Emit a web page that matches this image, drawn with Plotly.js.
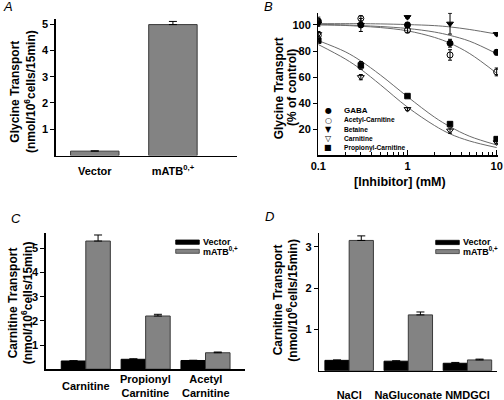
<!DOCTYPE html>
<html>
<head>
<meta charset="utf-8">
<script src="https://cdn.plot.ly/plotly-3.0.1.min.js"></script>
<style>html,body{margin:0;padding:0;background:#fff;}#chart{width:504px;height:400px;}</style>
</head>
<body>
<div id="chart"></div>
<script>
// ---------- Panel A data ----------
const catA = ['Vector', 'mATB<sup>0,+</sup>'];
const valA = [0.17, 4.98];
const errA = [0.01, 0.12];

// ---------- Panel B data ----------
const concB = [0.1, 0.3, 1, 3, 10];
const gabaB = [103, 100, 100, 86, 79];
const gabaErrB = [3, 5, 2, 3, 2];
const acetylB = [92, 105, 96, 77, 64];
const acetylErrB = [3, 2, 2, 4, 3];
const betaineB = [101, 100, 106, 101, 93];
const betaineErrB = [2, 1, 1, 8, 1];
const carnB = [93, 60, 35.5, 19, 10];
const carnErrB = [2, 2, 1, 2, 1];
const propB = [88, 69, 45.5, 24, 12.5];
const propErrB = [1, 3, 1, 1, 1];
// fitted curves
const fitX = [0.1, 0.2, 0.3, 0.5, 1, 2, 3, 5, 10];
const gabaFit = [100.5, 100, 99.5, 98.8, 97.3, 94.6, 92, 87.5, 78];
const acetylFit = [100, 99.6, 99, 98, 95.5, 90.5, 86, 78, 63];
const betaineFit = [101, 101, 101, 100.8, 100.3, 99.5, 98.5, 96.5, 93];
const carnFit = [85, 74, 66, 54, 37, 23, 16.5, 11, 6];
const propFit = [88, 79.5, 72.4, 61.5, 45, 29.4, 22, 14.6, 8];
const legendB = ['GABA', 'Acetyl-Carnitine', 'Betaine', 'Carnitine', 'Propionyl-Carnitine'];
const legendSymB = ['\u25CF', '\u25CB', '\u25BC', '\u25BD', '\u25A0'];
const tickValsB = [0.1, 1, 10];
const tickTextB = ['0.1', '1', '10'];
const minorValsB = [0.2, 0.3, 0.4, 0.5, 0.6, 0.7, 0.8, 0.9, 2, 3, 4, 5, 6, 7, 8, 9];

// ---------- Panel C data ----------
const catC = ['Carnitine', 'Propionyl<br>Carnitine', 'Acetyl<br>Carnitine'];
const vecC = [0.34, 0.41, 0.36];
const vecErrC = [0.01, 0.02, 0.01];
const atbC = [5.3, 2.2, 0.68];
const atbErrC = [0.25, 0.07, 0.03];

// ---------- Panel D data ----------
const catD = ['NaCl', 'NaGluconate', 'NMDGCl'];
const vecD = [0.25, 0.23, 0.18];
const vecErrD = [0.01, 0.01, 0.02];
const atbD = [3.15, 1.35, 0.26];
const atbErrD = [0.11, 0.07, 0.02];

const seriesNames = ['Vector', 'mATB<sup>0,+</sup>'];

// ---------- styles ----------
const FONT = 'Liberation Sans, Arial, Helvetica, sans-serif';
const GRAY = '#838383';
const OUTLINE = '#3a3a3a';
const CURVE = '#6a6a6a';
const tickFont = {family: FONT, size: 11, color: '#000', weight: 'bold'};

function upErr(arr) {
  return {type: 'data', symmetric: false, array: arr, arrayminus: arr.map(() => 0),
          color: '#000', thickness: 1, width: 4};
}
function symErr(arr) {
  return {type: 'data', array: arr, color: '#000', thickness: 1, width: 2};
}
function px(v) { return v / 504; }
function py(v) { return 1 - v / 400; }

const traces = [];

// Panel A
traces.push({type: 'bar', x: catA, y: valA, xaxis: 'x', yaxis: 'y', width: 0.62,
  marker: {color: GRAY, line: {color: OUTLINE, width: 1}}, error_y: upErr(errA),
  showlegend: false, hoverinfo: 'skip'});

// Panel B curves
const fits = [gabaFit, acetylFit, betaineFit, carnFit, propFit];
fits.forEach(f => traces.push({type: 'scatter', mode: 'lines', x: fitX, y: f, xaxis: 'x2', yaxis: 'y2',
  line: {color: CURVE, width: 1, shape: 'spline', smoothing: 1}, showlegend: false, hoverinfo: 'skip'}));
// Panel B points
const ptsB = [
  [gabaB, gabaErrB, 'circle', 6],
  [acetylB, acetylErrB, 'circle-open', 6],
  [betaineB, betaineErrB, 'triangle-down', 6],
  [carnB, carnErrB, 'triangle-down-open', 6],
  [propB, propErrB, 'square', 5.5]
];
ptsB.forEach((p, i) => traces.push({type: 'scatter', mode: 'markers', x: concB, y: p[0],
  xaxis: 'x2', yaxis: 'y2', name: legendB[i],
  marker: {symbol: p[2], size: p[3], color: '#000', line: {color: '#000', width: 1}},
  error_y: symErr(p[1]), showlegend: false, hoverinfo: 'skip'}));

// Panel C
traces.push({type: 'bar', x: catC, y: vecC, xaxis: 'x3', yaxis: 'y3', name: seriesNames[0],
  marker: {color: '#000', line: {color: '#000', width: 1}}, error_y: upErr(vecErrC), showlegend: false, hoverinfo: 'skip'});
traces.push({type: 'bar', x: catC, y: atbC, xaxis: 'x3', yaxis: 'y3', name: seriesNames[1],
  marker: {color: GRAY, line: {color: OUTLINE, width: 1}}, error_y: upErr(atbErrC), showlegend: false, hoverinfo: 'skip'});

// Panel D
traces.push({type: 'bar', x: catD, y: vecD, xaxis: 'x4', yaxis: 'y4', name: seriesNames[0],
  marker: {color: '#000', line: {color: '#000', width: 1}}, error_y: upErr(vecErrD), showlegend: false, hoverinfo: 'skip'});
traces.push({type: 'bar', x: catD, y: atbD, xaxis: 'x4', yaxis: 'y4', name: seriesNames[1],
  marker: {color: GRAY, line: {color: OUTLINE, width: 1}}, error_y: upErr(atbErrD), showlegend: false, hoverinfo: 'skip'});

function yAx(domain, range, vals, anchor) {
  return {domain: domain, range: range, anchor: anchor, tickmode: 'array', tickvals: vals,
    ticks: 'outside', ticklen: 4, tickwidth: 1, tickcolor: '#000', showline: true, linecolor: '#000',
    linewidth: 1.3, showgrid: false, zeroline: false, tickfont: tickFont, fixedrange: true};
}
function xCat(domain, range, anchor, standoff) {
  return {domain: domain, range: range, anchor: anchor, type: 'category', ticks: '', showline: true,
    linecolor: '#000', linewidth: 1.3, showgrid: false, zeroline: false, tickfont: tickFont,
    ticklabelstandoff: standoff, fixedrange: true};
}

const annotations = [];
function ann(o) { annotations.push(Object.assign({showarrow: false, xref: 'paper', yref: 'paper'}, o)); }

// Panel letters
[['A', 7.5, 7], ['B', 268, 7], ['C', 16, 218], ['D', 269, 216]].forEach(l =>
  ann({text: '<i>' + l[0] + '</i>', x: px(l[1]), y: py(l[2]), xanchor: 'center', yanchor: 'middle',
       font: {family: FONT, size: 13, color: '#000'}}));

// Y titles
const titleFont = {family: FONT, size: 12, color: '#000', weight: 'bold'};
function yTitle(l1, l2, x1, x2, yc) {
  ann({text: l1, x: px(x1), y: py(yc), xanchor: 'center', yanchor: 'middle', textangle: -90, font: titleFont});
  ann({text: l2, x: px(x2), y: py(yc), xanchor: 'center', yanchor: 'middle', textangle: -90, font: titleFont});
}
yTitle('Glycine Transport', '(nmol/10<sup>6</sup>cells/15min)', 15, 29.3, 91.7);
yTitle('Glycine Transport', '(% of control)', 279.3, 292, 88);
yTitle('Carnitine Transport', '(nmol/10<sup>6</sup>cells/15min)', 13.3, 27.3, 303);
yTitle('Carnitine Transport', '(nmol/10<sup>6</sup>cells/15min)', 278.3, 291.7, 300);

// B x title
ann({text: '[Inhibitor] (mM)', x: px(399.7), y: py(181.7), xanchor: 'center', yanchor: 'middle',
     font: {family: FONT, size: 12.5, color: '#000', weight: 'bold'}});

// B legend (text-based)
const legRows = [110.7, 120, 129, 138.3, 147.7];
legendB.forEach((name, i) => {
  ann({text: legendSymB[i], x: px(328.3), y: py(legRows[i]), xanchor: 'center', yanchor: 'middle',
       font: {family: 'DejaVu Sans, sans-serif', size: 8, color: '#000'}});
  ann({text: name, x: px(341.5), y: py(legRows[i]), xanchor: 'left', yanchor: 'middle',
       font: {family: FONT, size: i === 0 ? 8 : 6.6, color: '#000', weight: 'bold'}});
});

// C category labels (vertically centred, as in the figure)
catC.forEach(c => ann({text: c, xref: 'x3', x: c, y: py(385.5), xanchor: 'center', yanchor: 'middle',
  font: tickFont}));

// C & D legends
const legFont = {family: FONT, size: 9, color: '#000', weight: 'bold'};
const shapes = [];
function barLegend(x0, x1, yTop1, yTop2, tx) {
  shapes.push({type: 'rect', xref: 'paper', yref: 'paper', x0: px(x0), x1: px(x1), y0: py(yTop1 + 4.3), y1: py(yTop1),
    fillcolor: '#000', line: {color: '#000', width: 0.8}});
  shapes.push({type: 'rect', xref: 'paper', yref: 'paper', x0: px(x0), x1: px(x1), y0: py(yTop2 + 4), y1: py(yTop2),
    fillcolor: GRAY, line: {color: OUTLINE, width: 0.8}});
  ann({text: seriesNames[0], x: px(tx), y: py(yTop1 + 2.2), xanchor: 'left', yanchor: 'middle', font: legFont});
  ann({text: seriesNames[1], x: px(tx), y: py(yTop2 + 1.5), xanchor: 'left', yanchor: 'middle', font: legFont});
}
barLegend(175.7, 199.3, 240, 249.3, 200.5);
barLegend(435.7, 459.3, 240.3, 249.6, 460.5);

const layout = {
  width: 504, height: 400, margin: {l: 0, r: 0, t: 0, b: 0},
  paper_bgcolor: '#fff', plot_bgcolor: 'rgba(0,0,0,0)',
  barmode: 'group', bargap: 0.18, bargroupgap: 0,
  showlegend: false,
  font: {family: FONT, color: '#000'},
  xaxis: xCat([px(55.7), px(237)], [-0.5, 1.82], 'y', 5),
  yaxis: yAx([py(155.6), py(18.8)], [0, 5.2], [1, 2, 3, 4, 5], 'x'),
  xaxis2: {domain: [px(318.3), px(498)], type: 'log', range: [-1, 1.015], anchor: 'y2',
    tickmode: 'array', tickvals: tickValsB, ticktext: tickTextB, ticks: 'inside', ticklen: 5, tickwidth: 1,
    tickcolor: '#000', showline: true, linecolor: '#000', linewidth: 1.3, showgrid: false, zeroline: false,
    tickfont: tickFont, fixedrange: true,
    minor: {tickmode: 'array', tickvals: minorValsB, ticks: 'inside', ticklen: 3, tickwidth: 1, tickcolor: '#000', showgrid: false}},
  yaxis2: yAx([py(155.4), py(12.7)], [0, 109.4], [20, 40, 60, 80, 100], 'x2'),
  xaxis3: Object.assign(xCat([px(45.7), px(245)], [-0.67, 2.66], 'y3', 5), {showticklabels: false}),
  yaxis3: yAx([py(369.2), py(233.3)], [0, 5.62], [1, 2, 3, 4, 5], 'x3'),
  xaxis4: xCat([px(319), px(497)], [-0.51, 2.5], 'y4', 14),
  yaxis4: yAx([py(370.7), py(233)], [0, 3.33], [1, 2, 3], 'x4'),
  annotations: annotations,
  shapes: shapes
};

Plotly.newPlot('chart', traces, layout, {staticPlot: true, displayModeBar: false});
</script>
</body>
</html>
